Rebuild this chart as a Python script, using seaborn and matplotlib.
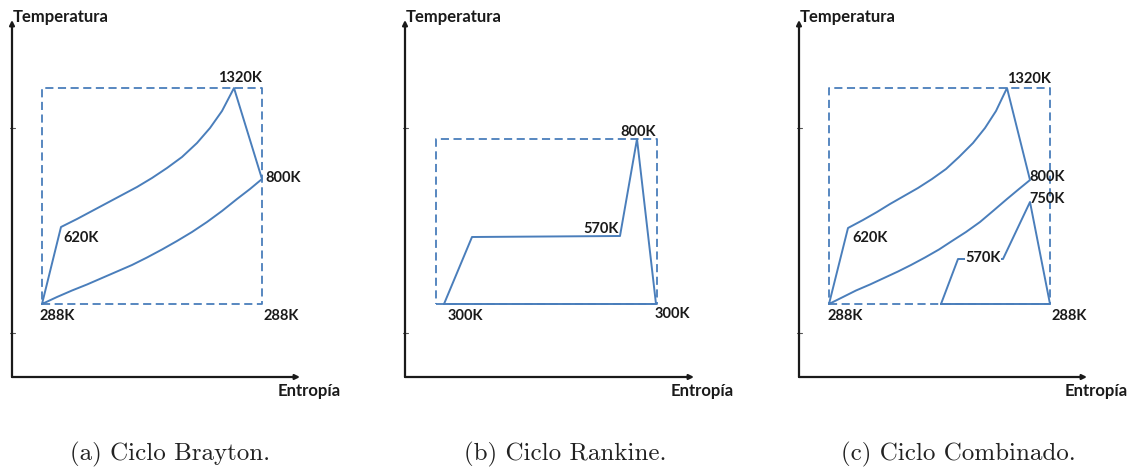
#---------------importing the libraries
import numpy as np
import matplotlib
matplotlib.use("Agg")
import matplotlib.pyplot as plt
import seaborn as sns

#---------------data (diagram units: entropy to the right, temperature up)
# (a) Brayton : 288K -> 620K -> (heating) 1320K -> 800K -> (cooling) 288K
bray_s = [30, 49, 65, 80, 95, 110, 125, 140, 155, 170, 185, 198, 210, 222,
          250, 238, 225, 210, 195, 180, 165, 150, 135, 120, 105, 90, 75, 60, 45, 30]
bray_t = [73, 150, 158, 166, 174, 182, 190, 199, 209, 220, 234, 249, 266, 289,
          198, 188, 178, 166, 155, 145, 136, 127.5, 119.5, 112, 105.5, 99, 92.5, 86.5, 80, 73]
bray_rect_s = [30, 250, 250, 30, 30]
bray_rect_t = [73, 73, 289, 289, 73]
bray_labels = ["1320K", "800K", "620K", "288K", "288K"]
bray_lab_s = [206, 253, 51, 28, 251]
bray_lab_t = [299, 199, 139, 61, 61]

# (b) Rankine
rank_s = [39, 67, 215, 232, 251, 39]
rank_t = [73, 140, 141, 238, 73, 73]
rank_rect_s = [31, 252, 252, 31, 31]
rank_rect_t = [73, 73, 238, 238, 73]
rank_labels = ["800K", "570K", "300K", "300K"]
rank_lab_s = [215, 178, 43, 250]
rank_lab_t = [245, 148, 61, 63]

# (c) Combinado
comb_b_s = [30, 49, 64, 78, 91, 105, 119, 133, 147, 160, 174, 186, 197, 208,
            231, 220, 208, 194, 181, 167, 153, 140, 126, 112, 99, 85, 71, 57, 44, 30]
comb_b_t = [73, 149, 157, 165, 173, 181, 189, 198, 208, 220, 234, 249, 266, 289,
            197, 188, 178, 166, 155, 145, 136, 127.5, 119.5, 112, 105.5, 99, 92.5, 86.5, 80, 73]
comb_r_s = [142, 159, 204, 231, 251, 142]
comb_r_t = [73, 118, 118, 175, 73, 73]
comb_rect_s = [30, 251, 251, 30, 30]
comb_rect_t = [73, 73, 289, 289, 73]
comb_labels = ["1320K", "800K", "750K", "620K", "570K", "288K", "288K"]
comb_lab_s = [208, 230, 230, 53, 166, 29, 252]
comb_lab_t = [298, 200, 178, 139, 119, 61, 61]

captions = ["(a) Ciclo Brayton.", "(b) Ciclo Rankine.", "(c) Ciclo Combinado."]
caption_x = [170, 565, 958]

y_ticks = [44, 249]
x_axis_len = [288, 289, 288]
y_axis_len = 357
origins = [(12, 377), (405, 377), (799, 377)]   # pixel position of each panel origin

BLUE = "#4a7ebb"
W, H = 1136, 467

sns.set_theme(style="white")
plt.rcParams["font.family"] = ["Lato", "DejaVu Sans"]

fig = plt.figure(figsize=(W / 100, H / 100), dpi=100)


#------------one panel of the T-s diagram
def draw_panel(ax, cycles, rect, labels, lab_s, lab_t, xlen, masked=()):
    ax.set_xlim(-15, 345)
    ax.set_ylim(-30, 375)
    ax.axis("off")

    # dashed box
    ax.plot(rect[0], rect[1], color=BLUE, lw=1.3, dashes=(4.5, 2.5), zorder=2)

    # cycles
    for s, t in cycles:
        sns.lineplot(x=s, y=t, sort=False, estimator=None, color=BLUE,
                     lw=1.4, ax=ax, zorder=3)

    # axes with arrows
    ax.annotate("", xy=(0, y_axis_len), xytext=(0, 0),
                arrowprops=dict(arrowstyle="-|>", lw=1.6, color="#1a1a1a",
                                mutation_scale=7, shrinkA=0, shrinkB=0))
    ax.annotate("", xy=(xlen, 0), xytext=(0, 0),
                arrowprops=dict(arrowstyle="-|>", lw=1.6, color="#1a1a1a",
                                mutation_scale=7, shrinkA=0, shrinkB=0))
    for yt in y_ticks:
        ax.plot([-2.5, 2.5], [yt, yt], color="#555555", lw=0.8)

    ax.text(1, 360, "Temperatura", ha="left", va="center", fontsize=12,
            fontweight="bold", color="#1a1a1a")
    ax.text(266, -14, "Entropía", ha="left", va="center", fontsize=12,
            fontweight="bold", color="#1a1a1a")

    for i, (lab, s, t) in enumerate(zip(labels, lab_s, lab_t)):
        box = dict(facecolor="white", edgecolor="none", pad=0.3) if i in masked else None
        ax.text(s, t, lab, ha="left", va="center", fontsize=10.5,
                fontweight="bold", color="#1a1a1a", bbox=box, zorder=5)


panels = [
    ([(bray_s, bray_t)], (bray_rect_s, bray_rect_t), bray_labels, bray_lab_s, bray_lab_t, ()),
    ([(rank_s, rank_t)], (rank_rect_s, rank_rect_t), rank_labels, rank_lab_s, rank_lab_t, ()),
    ([(comb_b_s, comb_b_t), (comb_r_s, comb_r_t)], (comb_rect_s, comb_rect_t),
     comb_labels, comb_lab_s, comb_lab_t, (4,)),
]

for k, (ox, oy) in enumerate(origins):
    left = (ox - 15) / W
    bottom = (H - (oy + 30)) / H
    ax = fig.add_axes([left, bottom, 360 / W, 405 / H])
    cycles, rect, labels, ls, lt, masked = panels[k]
    draw_panel(ax, cycles, rect, labels, ls, lt, x_axis_len[k], masked)

#-----------captions
for cap, cx in zip(captions, caption_x):
    fig.text(cx / W, (H - 454) / H, cap, ha="center", va="center",
             family="cmr10", fontsize=18, color="#222222")

fig.savefig("out.png", dpi=100)
